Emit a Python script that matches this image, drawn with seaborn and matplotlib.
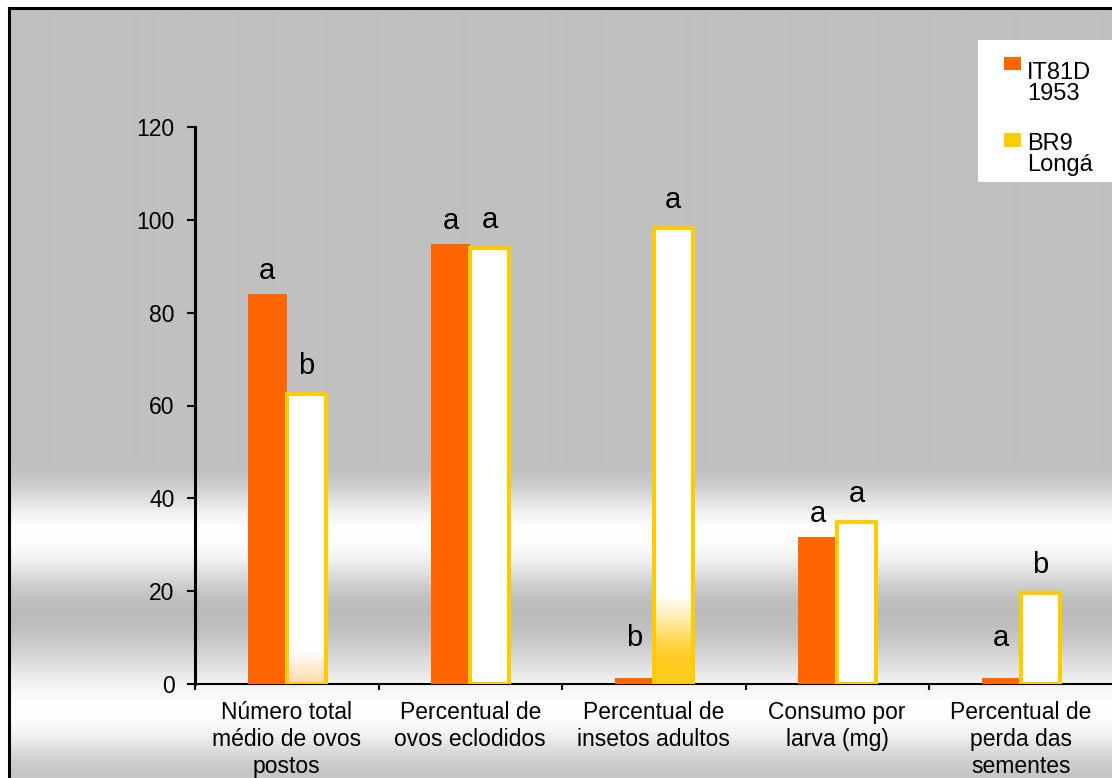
import numpy as np
import pandas as pd
import matplotlib
matplotlib.use("Agg")
import matplotlib.pyplot as plt
from matplotlib.patches import Rectangle
from matplotlib.lines import Line2D
from matplotlib.colors import to_rgb
import seaborn as sns

# ---- data -----------------------------------------------------------------
categorias = [
    "Número total\nmédio de ovos\npostos",
    "Percentual de\novos eclodidos",
    "Percentual de\ninsetos adultos",
    "Consumo por\nlarva (mg)",
    "Percentual de\nperda das\nsementes",
]
cultivares = ["IT81D\n1953", "BR9\nLongá"]
valores_it81d = [84.0, 94.8, 1.3, 31.6, 1.3]
valores_br9 = [62.5, 94.0, 98.2, 34.9, 19.6]
letras_it81d = ["a", "a", "b", "a", "a"]
letras_br9 = ["b", "a", "a", "a", "b"]
y_ticks = [0, 20, 40, 60, 80, 100, 120]

# ---- style ----------------------------------------------------------------
sns.set_theme(style="ticks")
plt.rcParams["font.family"] = ["Liberation Sans", "DejaVu Sans"]

COR_IT = "#FF6600"
COR_BR = "#FFCC00"
cores = {cultivares[0]: COR_IT, cultivares[1]: COR_BR}

W, H = 1112, 778
fig = plt.figure(figsize=(W / 100, H / 100), dpi=100)
fig.patch.set_facecolor("white")

# ---- banded grey background inside the frame -------------------------------
FX, FY = 8.7, 8.0  # frame position in pixels (left, top)


def eased_profile(y, ky, kv):
    out = np.empty_like(y, dtype=float)
    for i in range(len(ky) - 1):
        m = (y >= ky[i]) & (y <= ky[i + 1])
        t = (y[m] - ky[i]) / (ky[i + 1] - ky[i])
        t = 0.5 - 0.5 * np.cos(np.pi * t)
        out[m] = kv[i] + (kv[i + 1] - kv[i]) * t
    return out


ys = np.arange(H, dtype=float)
shade = eased_profile(ys, [0, 462, 535, 612, 712, 778], [192, 192, 255, 188, 255, 198]) / 255.0
bg_img = np.repeat(shade[:, None, None], 3, axis=2)
bg_img = bg_img[int(FY):]
bg = fig.add_axes([FX / W, 0, 1 - FX / W, 1 - FY / H], zorder=0)
bg.imshow(bg_img, aspect="auto", extent=(0, 1, 0, 1), origin="upper", interpolation="bilinear")
bg.set_axis_off()

fig.add_artist(Line2D([FX / W, FX / W], [0, 1 - FY / H], color="black", lw=2.2,
                      transform=fig.transFigure, solid_capstyle="projecting", zorder=6))
fig.add_artist(Line2D([FX / W, 1], [1 - FY / H, 1 - FY / H], color="black", lw=2.2,
                      transform=fig.transFigure, solid_capstyle="projecting", zorder=6))

# ---- main axes ------------------------------------------------------------
ax = fig.add_axes([195 / W, (H - 684) / H, (W - 195 + 0.5) / W, (684 - 127) / H], zorder=1)
ax.patch.set_alpha(0)

df = pd.DataFrame({
    "categoria": categorias * 2,
    "cultivar": [cultivares[0]] * len(categorias) + [cultivares[1]] * len(categorias),
    "valor": valores_it81d + valores_br9,
})

sns.barplot(data=df, x="categoria", y="valor", hue="cultivar", order=categorias,
            hue_order=cultivares, palette=cores, width=0.425, gap=0, dodge=True,
            saturation=1, errorbar=None, legend=False, ax=ax)

barras_it, barras_br = ax.containers

for p in barras_it:
    p.set_edgecolor("none")
    p.set_linewidth(0)
    p.set_zorder(3)

# white fill with a warm fade near the base of some outlined bars
fade = {0: ("#FFDDB5", 8.0, 0.0), 2: ("#FFCC22", 21.0, 4.0)}
for i, p in enumerate(barras_br):
    x0, w, h = p.get_x(), p.get_width(), p.get_height()
    p.set_facecolor("none")
    p.set_edgecolor(COR_BR)
    p.set_linewidth(2.9)
    p.set_zorder(3)
    v = np.linspace(0, h, 300)
    col = np.ones((300, 3))
    if i in fade:
        tint, top_v, full_v = fade[i]
        wgt = np.clip((top_v - v) / (top_v - full_v), 0, 1)
        wgt = wgt * wgt * (3 - 2 * wgt)
        col = (1 - wgt[:, None]) * 1.0 + wgt[:, None] * np.array(to_rgb(tint))[None, :]
    ax.imshow(col[:, None, :], extent=(x0, x0 + w, 0, h), origin="lower",
              aspect="auto", interpolation="bilinear", zorder=2.5)

# significance letters (outlined bars carry a slightly larger gap)
for barras, letras, gap_pt in ((barras_it, letras_it81d, 11.0), (barras_br, letras_br9, 14.5)):
    for p, letra in zip(barras, letras):
        ax.annotate(letra, (p.get_x() + p.get_width() / 2, max(p.get_height(), 5)),
                    xytext=(0, gap_pt), textcoords="offset points", ha="center",
                    va="baseline", fontsize=21, color="black", zorder=4)

ax.set_xlim(-0.5, 4.5)
ax.set_ylim(0, 120)
ax.set_yticks(y_ticks)
ax.set_yticklabels([str(t) for t in y_ticks])
ax.set_xticks(np.arange(-0.5, len(categorias) - 0.5, 1.0))
ax.set_xticklabels([])
ax.set_xticks(np.arange(len(categorias)), minor=True)
ax.set_xticklabels(categorias, minor=True)
ax.set_xlabel("")
ax.set_ylabel("")

ax.tick_params(axis="x", which="major", bottom=True, length=4.5, width=1.5,
               direction="out", color="black")
ax.tick_params(axis="x", which="minor", bottom=True, length=0, pad=12,
               labelsize=16.5, labelcolor="black")
ax.tick_params(axis="y", which="major", left=True, length=5.8, width=1.5, pad=9,
               direction="out", color="black", labelsize=16.5, labelcolor="black")
for t in ax.get_xticklabels(minor=True):
    t.set_linespacing(1.22)
    t.set_multialignment("center")

for s in ("top", "right"):
    ax.spines[s].set_visible(False)
ax.spines["left"].set_color("black")
ax.spines["left"].set_linewidth(2.2)
ax.spines["bottom"].set_color("black")
ax.spines["bottom"].set_linewidth(1.5)

# ---- legend panel ---------------------------------------------------------
fig.add_artist(Rectangle((978 / W, 1 - 182 / H), (W - 978) / W, (182 - 40) / H,
                         transform=fig.transFigure, facecolor="white",
                         edgecolor="none", zorder=5))
for nome, topo, base in ((cultivares[0], 56.7, 79.0), (cultivares[1], 133.0, 149.5)):
    fig.add_artist(Rectangle((1004 / W, 1 - (topo + 13.5) / H), 16.5 / W, 13.5 / H,
                             transform=fig.transFigure, facecolor=cores[nome],
                             edgecolor="none", zorder=6))
    for k, linha in enumerate(nome.split("\n")):
        fig.text(1027 / W, 1 - (base + 21.5 * k) / H, linha, fontsize=17,
                 va="baseline", ha="left", color="black", zorder=7)

fig.savefig("out.png", dpi=100, facecolor=fig.get_facecolor())
